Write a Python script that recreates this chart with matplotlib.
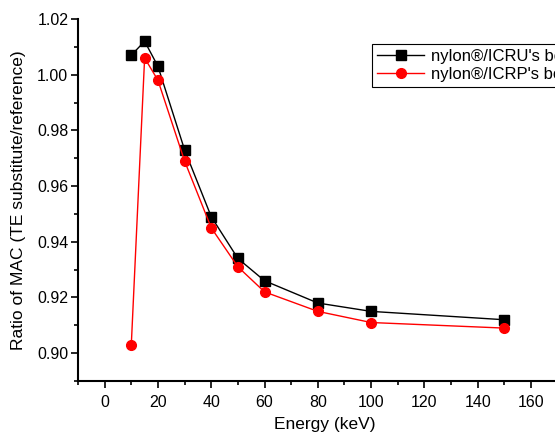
import matplotlib
matplotlib.use("Agg")
import matplotlib.pyplot as plt
from matplotlib.ticker import MultipleLocator

plt.rcParams['font.family'] = ['Liberation Sans', 'DejaVu Sans']

energy = [10, 15, 20, 30, 40, 50, 60, 80, 100, 150]
icru_ratio = [1.007, 1.012, 1.003, 0.973, 0.949, 0.934, 0.926, 0.918, 0.915, 0.912]
icrp_ratio = [0.903, 1.006, 0.998, 0.969, 0.945, 0.931, 0.922, 0.915, 0.911, 0.909]
series_labels = ["nylon\u00ae/ICRU's bone", "nylon\u00ae/ICRP's bone"]

fig = plt.figure(figsize=(5.55, 4.37), dpi=100)
# axes run past the right edge of the figure, as in the cropped original
ax = fig.add_axes([78 / 555, 56 / 437, 493 / 555, 362 / 437])

ax.plot(energy, icru_ratio, color='black', marker='s', markersize=6.5, lw=1.0, label=series_labels[0])
ax.plot(energy, icrp_ratio, color='red', marker='o', markersize=7, lw=1.0, label=series_labels[1])

ax.set_xlim(-10, 175)
ax.set_ylim(0.89, 1.02)
ax.xaxis.set_major_locator(MultipleLocator(20))
ax.xaxis.set_minor_locator(MultipleLocator(10))
ax.yaxis.set_major_locator(MultipleLocator(0.02))
ax.yaxis.set_minor_locator(MultipleLocator(0.01))
ax.yaxis.set_major_formatter(matplotlib.ticker.FormatStrFormatter('%.2f'))

for s in ['top', 'right']:
    ax.spines[s].set_visible(False)
for s in ['left', 'bottom']:
    ax.spines[s].set_linewidth(1.5)
ax.tick_params(which='major', direction='out', length=5, width=1.2, labelsize=11.5, pad=2)
ax.tick_params(axis='x', which='major', pad=5)
ax.tick_params(which='minor', direction='out', length=3, width=1.2)

ax.set_xlabel('Energy (keV)', fontsize=12.5, labelpad=5)
ax.set_ylabel('Ratio of MAC (TE substitute/reference)', fontsize=12.5, labelpad=8)

leg = ax.legend(loc='upper left', bbox_to_anchor=(0.58, 0.955), fontsize=12,
                frameon=True, fancybox=False, edgecolor='black', framealpha=1,
                handlelength=2.8, handletextpad=0.4, borderpad=0.3, labelspacing=0.2)
leg.get_frame().set_linewidth(0.8)

fig.savefig('out.png', dpi=100)
